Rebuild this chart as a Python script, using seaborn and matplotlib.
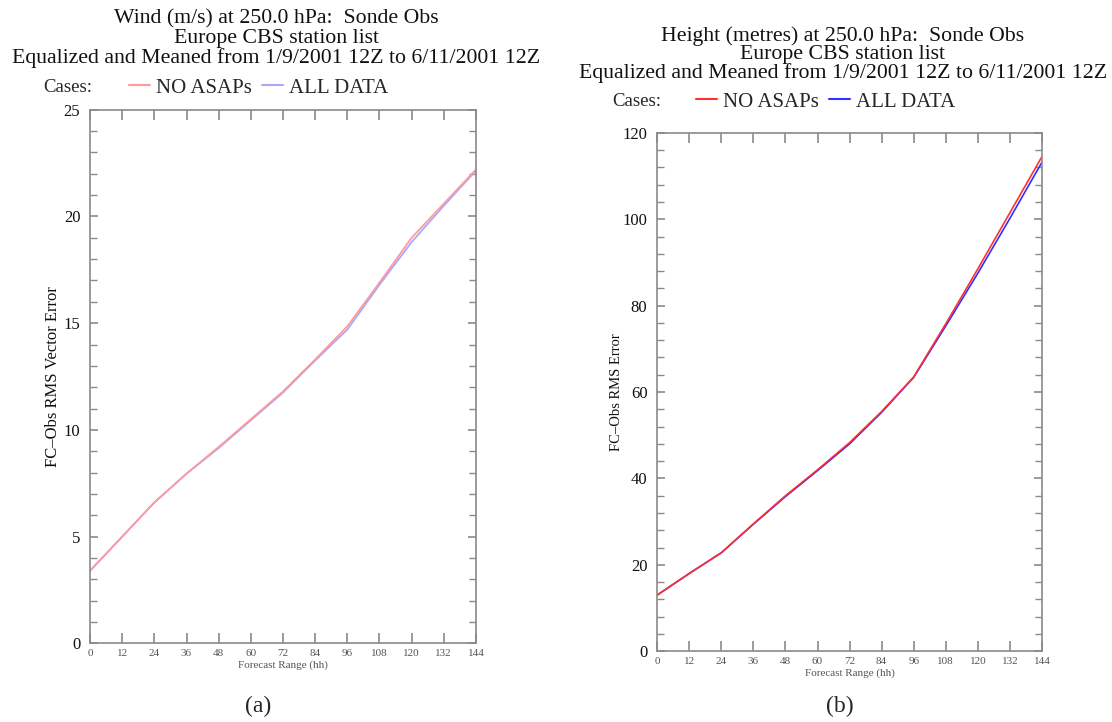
import matplotlib
matplotlib.use("Agg")
import matplotlib.pyplot as plt
from matplotlib.lines import Line2D
from matplotlib.ticker import MultipleLocator
import seaborn as sns
import pandas as pd

# Forecast ranges (hours)
steps = [0, 12, 24, 36, 48, 60, 72, 84, 96, 108, 120, 132, 144]

# Wind RMS vector error (m/s) at 250 hPa
wind_no_asaps = [3.4, 5.0, 6.6, 7.95, 9.2, 10.5, 11.8, 13.3, 14.85, 16.9, 19.0, 20.6, 22.2]
wind_all_data = [3.4, 5.0, 6.6, 7.95, 9.15, 10.45, 11.75, 13.25, 14.7, 16.8, 18.8, 20.5, 22.15]

# Height RMS error (metres) at 250 hPa
hgt_no_asaps = [13.0, 18.0, 22.8, 29.5, 36.0, 42.0, 48.3, 55.5, 63.5, 75.8, 88.5, 101.5, 114.5]
hgt_all_data = [13.0, 18.0, 22.8, 29.4, 35.8, 41.8, 48.0, 55.3, 63.4, 75.3, 87.5, 100.2, 113.2]

series_names = ["NO ASAPs", "ALL DATA"]

sns.set_style("ticks")
plt.rcParams["font.family"] = ["Liberation Serif", "DejaVu Serif"]

fig = plt.figure(figsize=(11.12, 7.22), dpi=100)
fig.patch.set_facecolor("white")

ax_a = fig.add_axes([0.081, 0.109, 0.347, 0.739])
ax_b = fig.add_axes([0.591, 0.098, 0.346, 0.718])

spine_grey = "#8a8a8a"


def long_frame(a, b):
    return pd.DataFrame({
        "step": steps * 2,
        "value": a + b,
        "case": [series_names[0]] * len(steps) + [series_names[1]] * len(steps),
    })


def style_axes(ax, ymax, major, minor, ylabel, ylabel_size, ylabel_pad):
    ax.set_xlim(0, 144)
    ax.set_ylim(0, ymax)
    ax.xaxis.set_major_locator(MultipleLocator(12))
    ax.yaxis.set_major_locator(MultipleLocator(major))
    ax.yaxis.set_minor_locator(MultipleLocator(minor))
    for s in ax.spines.values():
        s.set_visible(True)
        s.set_color(spine_grey)
        s.set_linewidth(1.2)
    ax.tick_params(axis="x", which="major", direction="in", length=7, width=1.2,
                   color=spine_grey, top=True, bottom=True, labelsize=8,
                   labelcolor="#555555", pad=4)
    ax.tick_params(axis="y", which="major", direction="in", length=6, width=1.2,
                   color=spine_grey, left=True, right=True, labelsize=12,
                   labelcolor="#111111", pad=7)
    ax.tick_params(axis="y", which="minor", direction="in", length=5, width=1.0,
                   color=spine_grey, left=True, right=True)
    ax.set_xlabel("Forecast Range (hh)", fontsize=8, color="#555555", labelpad=2)
    ax.set_ylabel(ylabel, fontsize=ylabel_size, color="#111111", labelpad=ylabel_pad)


# (a) wind
pal_a = {"NO ASAPs": "#ff9a9a", "ALL DATA": "#a8a8ff"}
sns.lineplot(data=long_frame(wind_no_asaps, wind_all_data), x="step", y="value",
             hue="case", palette=pal_a, hue_order=series_names[::-1],
             linewidth=1.3, legend=False, ax=ax_a)
style_axes(ax_a, 25, 5, 1, "FC\u2013Obs RMS Vector Error", 12, 2)

# (b) height
pal_b = {"NO ASAPs": "#ff3030", "ALL DATA": "#3030ff"}
sns.lineplot(data=long_frame(hgt_no_asaps, hgt_all_data), x="step", y="value",
             hue="case", palette=pal_b, hue_order=series_names[::-1],
             linewidth=1.2, legend=False, ax=ax_b)
style_axes(ax_b, 120, 20, 4, "FC\u2013Obs RMS Error", 10.5, 0)

# Titles
title_a = ["Wind (m/s) at 250.0 hPa:  Sonde Obs",
           "Europe CBS station list",
           "Equalized and Meaned from 1/9/2001 12Z to 6/11/2001 12Z"]
title_b = ["Height (metres) at 250.0 hPa:  Sonde Obs",
           "Europe CBS station list",
           "Equalized and Meaned from 1/9/2001 12Z to 6/11/2001 12Z"]
for i, line in enumerate(title_a):
    fig.text(276 / 1112, 1 - (19 + 19.5 * i) / 722, line, ha="center", va="center",
             fontsize=15.7, color="#111111")
for i, line in enumerate(title_b):
    fig.text(843 / 1112, 1 - (36 + 18.5 * i) / 722, line, ha="center", va="center",
             fontsize=15.7, color="#111111")

# Case legends
fig.text(43 / 1112, 1 - 87 / 722, "Cases:", ha="left", va="center", fontsize=13.5)
fig.text(612 / 1112, 1 - 101 / 722, "Cases:", ha="left", va="center", fontsize=13.5)

handles_a = [Line2D([], [], color=pal_a[n], lw=1.5) for n in series_names]
handles_b = [Line2D([], [], color=pal_b[n], lw=1.5) for n in series_names]
leg_kw = dict(ncol=2, frameon=False, fontsize=15, handlelength=1.0,
              handletextpad=0.3, columnspacing=0.5, borderaxespad=0, borderpad=0)
fig.legend(handles_a, series_names, loc="center left",
           bbox_to_anchor=(129 / 1112, 1 - 88 / 722), **leg_kw)
fig.legend(handles_b, series_names, loc="center left",
           bbox_to_anchor=(696 / 1112, 1 - 102 / 722), **leg_kw)

# Panel captions
fig.text(258 / 1112, 1 - 706 / 722, "(a)", ha="center", va="center", fontsize=17)
fig.text(840 / 1112, 1 - 706 / 722, "(b)", ha="center", va="center", fontsize=17)

fig.savefig("out.png", dpi=100, facecolor="white")
